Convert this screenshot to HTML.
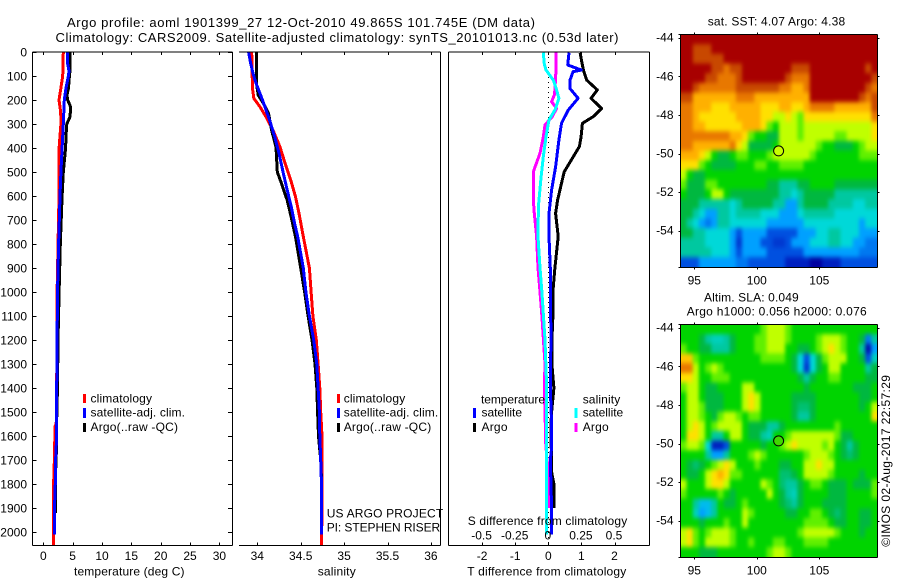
<!DOCTYPE html>
<html lang="en">
<head>
<meta charset="utf-8">
<title>Argo profile 1901399_27</title>
<style>
html,body{margin:0;padding:0;background:#fff;}
svg{display:block;}
text{font-family:"Liberation Sans",sans-serif;font-size:12px;fill:#000;}
</style>
</head>
<body>
<svg id="fig" xmlns="http://www.w3.org/2000/svg" width="900" height="580" viewBox="0 0 900 580">
<defs>
<filter id="mapSmooth" filterUnits="userSpaceOnUse" x="660" y="10" width="240" height="570" color-interpolation-filters="sRGB">
<feGaussianBlur stdDeviation="1.8 2.5"/>
</filter>
<clipPath id="sstClip"><rect x="680" y="35" width="197.5" height="232"/></clipPath>
<clipPath id="slaClip"><rect x="680" y="325" width="197.5" height="232"/></clipPath>
</defs>
<rect x="0" y="0" width="900" height="580" fill="#fff"/>
<text x="67" y="27" font-size="13" style="font-size:13px" textLength="468">Argo profile: aoml 1901399_27 12-Oct-2010 49.865S 101.745E (DM data)</text>
<text x="55.5" y="42" style="font-size:13px" textLength="563">Climatology: CARS2009. Satellite-adjusted climatology: synTS_20101013.nc (0.53d later)</text>
<g id="maps"></g>
<g id="plots"></g>

<text x="74" y="575.5" textLength="110.5">temperature (deg C)</text>
<text x="317.7" y="575.5" textLength="38">salinity</text>
<text x="467.3" y="575.5" textLength="159">T difference from climatology</text>
<text x="467.7" y="525" textLength="159.5">S difference from climatology</text>

<g>
<rect x="83" y="394" width="3" height="9" fill="#f00"/>
<rect x="83" y="408" width="3" height="10" fill="#00f"/>
<rect x="83" y="423" width="3" height="9" fill="#000"/>
<text x="90.5" y="402.5" textLength="61.5">climatology</text>
<text x="90.5" y="416.7" textLength="94.5">satellite-adj. clim.</text>
<text x="90.5" y="431" textLength="87.5">Argo(..raw -QC)</text>
</g>
<g>
<rect x="337" y="394" width="3" height="9" fill="#f00"/>
<rect x="337" y="408" width="3" height="10" fill="#00f"/>
<rect x="337" y="423" width="3" height="9" fill="#000"/>
<text x="343.7" y="402.5" textLength="61.5">climatology</text>
<text x="343.7" y="416.7" textLength="94.5">satellite-adj. clim.</text>
<text x="343.7" y="431" textLength="87.5">Argo(..raw -QC)</text>
</g>
<text x="326.7" y="517.7" textLength="116.5">US ARGO PROJECT</text>
<text x="326.7" y="531.7" textLength="113.5">PI: STEPHEN RISER</text>
<g>
<text x="481" y="403.3" textLength="64">temperature</text>
<text x="582.7" y="403.3" textLength="37.5">salinity</text>
<rect x="473" y="408" width="3" height="10" fill="#00f"/>
<rect x="473" y="423" width="3" height="9" fill="#000"/>
<rect x="574.5" y="408" width="3" height="10" fill="#0ff"/>
<rect x="574.5" y="423" width="3" height="9" fill="#f0f"/>
<text x="481.5" y="416.7" textLength="40.5">satellite</text>
<text x="481.5" y="431" textLength="26">Argo</text>
<text x="582.7" y="416.7" textLength="40.5">satellite</text>
<text x="582.7" y="431" textLength="26">Argo</text>
</g>

<text x="707.7" y="25.7" textLength="137.5">sat. SST: 4.07 Argo: 4.38</text>
<text x="704" y="301.7" textLength="94.7">Altim. SLA: 0.049</text>
<text x="686.7" y="315.7" textLength="180">Argo h1000: 0.056 h2000: 0.076</text>
<text transform="translate(890,546.7) rotate(-90)" x="0" y="0" textLength="171.7">©IMOS 02-Aug-2017 22:57:29</text>
</svg>
<script>
// ---------- profile data (depth in dbar) ----------
const tempClimDepth = [0,100,150,200,250,300,400,500,600,1000,1400,1500,1550,1560,1650,1750,1800,1900,2000,2055];
const tempClimValue = [3.4,3.3,3.0,2.67,2.96,3.0,2.7,2.7,2.67,2.35,2.28,2.25,2.2,1.98,1.94,1.83,1.75,1.72,1.7,1.7];
const tempSatDepth = [0,50,80,100,150,200,300,400,500,600,800,1000,1400,1500,1600,1700,1800,1900,2000,2010];
const tempSatValue = [4.15,4.15,4.38,4.27,3.87,3.58,3.4,3.2,3.0,2.85,2.6,2.42,2.28,2.28,2.28,2.1,2.05,1.9,1.9,1.9];
const tempArgoDepth = [0,50,80,100,150,180,200,230,270,300,350,400,500,600,800,1000,1200,1400,1500,1650,1750,1800,1900,1920];
const tempArgoValue = [4.55,4.55,4.55,4.45,4.3,4.04,4.15,4.67,4.55,4.0,3.87,3.8,3.4,3.2,2.9,2.7,2.5,2.42,2.3,2.25,2.1,2.08,2.08,2.08];

const salClimDepth = [0,89,158,193,228,276,325,394,464,533,603,672,769,900,1000,1100,1200,1300,1400,1500,1600,1700,1900,2055];
const salClimValue = [33.936,33.94,33.947,33.96,34.03,34.11,34.18,34.26,34.32,34.385,34.44,34.48,34.53,34.6,34.62,34.64,34.68,34.7,34.72,34.73,34.745,34.745,34.745,34.74];
const salSatDepth = [0,42,89,130,200,283,353,422,505,575,644,714,769,900,1000,1100,1200,1300,1400,1500,1600,1700,1800,2000,2010];
const salSatValue = [33.9,33.92,33.95,33.985,34.06,34.14,34.2,34.25,34.3,34.345,34.39,34.43,34.465,34.53,34.56,34.6,34.65,34.685,34.7,34.715,34.72,34.73,34.74,34.74,34.74];
const salArgoDepth = [0,130,179,214,257,326,396,500,549,618,688,771,900,1000,1100,1200,1300,1400,1500,1600,1700,1780];
const salArgoValue = [33.99,33.99,34.01,34.07,34.13,34.165,34.215,34.23,34.28,34.345,34.39,34.44,34.5,34.545,34.585,34.63,34.665,34.685,34.695,34.705,34.73,34.74];

const dTArgoDepth = [3,33,75,117,158,193,235,269,297,353,394,436,499,547,617,672,769,900,1000,1100,1200,1300,1400,1500,1550,1750,1800,1900];
const dTArgoValue = [0.96,1.0,1.06,1.16,1.48,1.29,1.61,1.36,1.03,0.99,0.94,0.755,0.48,0.4,0.28,0.22,0.3,0.2,0.14,0.14,0.11,0.11,0.17,0.1,0.08,0.1,0.17,0.17];
const dTSatDepth = [3,54,75,82,117,152,193,242,297,367,478,575,672,769,900,1200,1400,1550,1650,1700,1900,2010];
const dTSatValue = [0.625,0.585,1.0,0.75,0.655,0.655,0.9,0.6,0.4,0.32,0.22,0.1,0.02,0.02,0.06,0.08,0.06,0.1,0.1,0.06,0.1,0.1];
const dSArgoDepth = [3,89,158,179,207,235,269,304,353,422,499,617,672,769,900,1000,1100,1300,1400,1550,1608,1700,1760,1900];
const dSArgoValue = [0.058,0.057,0.05,0.045,0.025,0.063,0.03,-0.025,-0.038,-0.063,-0.113,-0.113,-0.106,-0.088,-0.078,-0.063,-0.048,-0.025,-0.03,-0.023,-0.023,-0.01,0.008,0.008];
const dSSatDepth = [3,50,75,117,158,193,242,283,353,436,533,644,769,900,1000,1200,1400,1550,1900,2010];
const dSSatValue = [-0.038,-0.03,-0.017,0.038,0.063,0.08,0.05,0.005,-0.017,-0.038,-0.057,-0.075,-0.078,-0.063,-0.048,-0.025,-0.012,-0.012,-0.012,-0.012];

// ---------- tick labels ----------
const depthTicks = [0,100,200,300,400,500,600,700,800,900,1000,1100,1200,1300,1400,1500,1600,1700,1800,1900,2000];
const tempTicks = [0,5,10,15,20,25,30];
const salTicks = [34,34.5,35,35.5,36];
const dTTicks = [-2,-1,0,1,2];
const dSTicks = [-0.5,-0.25,0,0.25,0.5];
const lonTicks = [95,100,105];
const latTicks = [-44,-46,-48,-50,-52,-54];
const floatLon = [101.745];
const floatLat = [-49.865];

// ---------- map grids: colour level per 0.5 deg cell, north to south ----------
const sstGrid = [
[14,14,14,14,14,14,14,14,14,14,14,14,14,14,14,14,14,14,14,14,14,14,14,14,14,14,14,14,14,14,14,14],
[14,14,13,13,13,14,14,14,14,14,14,14,14,14,14,14,14,14,14,14,14,14,14,14,14,14,14,14,14,14,14,14],
[14,14,13,13,13,13,13,14,14,14,14,14,14,14,14,14,14,14,14,14,14,14,14,14,14,14,14,14,14,14,14,14],
[14,14,14,14,14,13,13,12,13,13,14,14,14,14,14,14,14,14,13,13,13,14,14,14,14,14,14,14,14,14,13,14],
[14,14,14,14,13,13,12,12,12,13,14,14,14,14,14,14,14,13,12,12,12,14,14,14,14,14,14,14,14,14,14,13],
[14,14,13,12,12,12,12,12,12,13,13,13,13,13,13,13,12,12,11,11,12,14,14,14,14,14,14,14,14,14,13,12],
[13,13,11,11,11,11,11,11,11,12,12,12,11,11,11,11,11,11,11,11,11,14,14,14,14,14,14,14,14,13,12,13],
[12,12,11,11,11,10,10,10,11,11,11,11,11,10,10,10,11,11,10,10,11,12,12,12,12,11,11,11,11,11,11,13],
[12,12,11,10,10,10,10,10,10,11,11,11,11,10,10,9,9,10,9,8,10,10,10,10,10,10,10,10,10,10,10,12],
[12,12,11,11,10,10,10,10,10,10,11,11,11,10,8,7,9,9,9,8,9,9,9,9,9,9,9,9,9,9,9,10],
[12,12,12,12,12,12,12,12,11,11,10,8,7,7,6,6,9,9,9,8,9,9,9,9,9,8,8,9,9,9,9,10],
[12,12,11,11,11,11,11,11,12,10,9,6,6,6,6,7,9,9,9,9,9,9,8,7,7,6,6,6,7,8,9,9],
[11,11,11,10,9,7,6,6,7,8,8,7,7,7,8,9,9,9,9,9,9,8,7,7,7,7,7,7,7,8,8,8],
[10,10,10,8,7,6,6,6,6,7,7,7,8,8,7,7,8,8,8,8,7,7,7,7,7,7,7,7,7,7,7,7],
[9,7,6,6,7,7,7,7,7,7,7,7,7,7,7,7,7,7,7,7,7,7,7,7,7,7,7,7,7,7,7,7],
[8,6,6,6,8,8,7,7,7,7,7,7,7,7,6,6,5,5,5,6,6,7,7,7,7,6,6,6,6,6,6,6],
[7,6,6,6,7,9,9,7,6,6,6,6,6,6,6,6,5,5,4,5,6,6,6,6,6,5,5,5,5,5,5,5],
[6,6,6,5,5,5,5,5,4,5,6,6,6,6,6,5,5,3,3,5,6,6,6,6,5,5,5,5,4,4,5,5],
[6,6,5,4,3,3,5,5,4,5,5,5,5,4,4,4,3,3,3,4,5,5,5,5,5,4,4,4,4,4,4,4],
[6,5,4,3,2.5,3,5,5,4,4,4,4,4,4,3,3,3,3,3,3,4,4,4,4,4,4,4,4,4,3,4,4],
[6,6,5,5,4,4,4,4,3,2,3,3,3,3,2,2,2,2,2,3,3,3,4,4,5,5,4,4,4,3,3,3],
[5,5,5,5,4,4,4,4,3,1.5,3,3,3,2,2,1.5,1.5,2,3,3,3,4,4,4,5,5,4,4,3,3,2.5,2.5],
[5,5,5,5,5,4,4,4,3,2,3,3,3,3,2,2,2,2,2,2,3,3,3,3,3,3,3,3,3,2.5,2.5,2.5],
[2,2,2,3,3,3,3,3,3,2.5,2.5,2,2,2,2,2,2,1,1,1,1,0,0,1,1,1,2,2,2,2,2,2]
];
const slaGrid = [
[7,7,7,7,7,7,7,7,7,7,7,7,7,8,9,9,9,8,7,7,7,7,7,7,7,7,7,7,7,7,7,7],
[7,7,7,6,5,4.5,4.5,5,6,7,7,7,8,8,9,9,9,8,7,7,7,7,8,9,9,9,8,7,7,6,2.5,5],
[8,7,7,6,6,5,5,5,6,7,7,7,8,8,9,9,9,7,7,6,6,7,8,9,10,9,8,7,7,5,0.5,3],
[10.5,10.5,8,7,7,7,7,7,7,7,7,7,7,8,8,8,8,7,6,4,2,4,6,8,9,9,9,7,7,6,2,4.5],
[12,12,9,7,8,9,8,7,7,7,7,7,7,7,7,7,7,7,6,4,1.5,4,6,7,9,9,7,7,7,7,5,6],
[10,10,9,7,7,8,8,8,7,7,7,7,7,7,7,7,7,7,7,6,5,6,7,7,8,8,7,7,7,7,6,6],
[8,9,9,7,6,6,7,7,7,7,9,9,7,7,7,7,7,7,7,7,6,7,7,7,7,7,7,7,6,6,6,7],
[7,9,9,7,6,6,6,7,7,7,9,10,9,7,7,7,7,7,6,6,6,6,7,7,7,7,7,7,7,6,6,7],
[7,9,9,8,6,6,6,7,7,7,9,10,9,7,7,7,7,7,6,5.5,5.5,6,7,7,7,7,7,7,7,6,7,9],
[7,9,9,8,7,6,8,9,9,8,7,8,8,7,7,7,7,7,6,5,5,6,7,7,7,7,7,7,7,7,7,10],
[7,9,10,9,7,8,9,9,9,9,7,6,6,6,5,5,6,7,7,7,7,7,7,7,7,8,7,7,7,7,7,7],
[7,10,10,9,7,5,5,7,9,9,7,6,6,5,4.5,7,7,8,9,9,9,9,9,9,9,8,6,6,7,7,7,7],
[8,9,9,8,4,1,1,2,7,7,7,7,7,6,7,7,8,9,10,9,9,9,9,8,9,7,6,5,6,7,7,7],
[7,7,7,7,5,3,3,5,7,7,7,8,9,8,7,7,7,7,7,7,8,9,9,9,8,7,6,5.5,6,7,7,7],
[7,6,5.5,6,7,8,9,10,9,7,7,7,8,7,7,7,6,6,7,7,9,9,10,9,9,7,7,7,7,7,7,7],
[7,6,6,7,9,10,11,10,8,8,7,7,7,7,7,7,5.5,5.5,6,7,9,9,9,9,8,7,7,7,7,6,7,7],
[9,7,7,7,9,10,10,9,7,7,7,7,7,9,8,7,5.5,5,5,6,7,8,8,7,6,6,6,7,6,6,6,8],
[8,7,7,7,7,7,8,7,6,7,7,7,7,7,9,7,6,5,4.5,6,7,7,7,7,6,6,6,7,7,7,7,8],
[7,7,5,3.5,3.5,5,7,6,6,7,8,7,7,7,7,7,6,5.5,5,6,7,7,7,6,6,6,6,7,7,7,7,7],
[7,7,4.5,3,3.5,5,7,7,7,7,9,8,7,7,7,7,7,6,6,7,7,8,8,7,6,5.5,6,7,7,6,6,7],
[7,7,7,6,7,7,7,8,7,7,9,7,7,7,7,7,7,7,7,7,8,8,8,8,7,6,6,7,7,6,6,7],
[9,10,8,7,8,9,9,9,8,7,7,7,7,7,7,7,7,7,7,8,9,9,9,9,9,8,7,7,7,6,7,7],
[9,10,8,7,9,9,9,9,8,7,7,8,7,7,7,8,8,7,7,7,8,8,8,8,7,7,7,7,7,7,7,7],
[7,7,7,6,6,6,7,7,7,7,7,7,7,7,8,9,9,8,7,7,7,7,7,7,7,7,7,7,7,7,7,7]
];
const levelColours = ['#0000a0','#0020c0','#0050e0','#00a0ff','#00d8d8','#00c8a0','#00b840','#00d400','#60f000','#c0ff00','#ffe000','#ffb000','#e87800','#c84800','#a80000'];

// ---------- axis functions ----------
const PLOT_TOP = 52, PLOT_BOTTOM = 545.5;
const yDepth = d => 52 + d * 0.24;
const xTemp = t => 43.3 + t * 5.87;
const xSal = s => 257.3 + (s - 34) * 86.8;
const xDT = t => 548.3 + t * 33.1;
const xDS = s => 548.3 + s * 132.4;
const xLon = lon => 694.3 + (lon - 95) * 12.5;
const yLatSst = lat => 37.7 + (-44 - lat) * 19.3;
const yLatSla = lat => 327.7 + (-44 - lat) * 19.3;

const SVGNS = 'http://www.w3.org/2000/svg';
const plots = document.getElementById('plots');
const maps = document.getElementById('maps');

function seg(parent, x1, y1, x2, y2, name) {
  const el = document.createElementNS(SVGNS, 'line');
  el.setAttribute('x1', x1); el.setAttribute('y1', y1);
  el.setAttribute('x2', x2); el.setAttribute('y2', y2);
  el.setAttribute('stroke', '#000');
  el.setAttribute('stroke-width', '1');
  el.setAttribute('shape-rendering', 'crispEdges');
  
  
  parent.appendChild(el);
  return el;
}
function label(parent, x, y, str, anchor, name) {
  const el = document.createElementNS(SVGNS, 'text');
  el.setAttribute('x', x); el.setAttribute('y', y);
  el.setAttribute('text-anchor', anchor);
  
  
  el.textContent = str;
  parent.appendChild(el);
  return el;
}
function profile(parent, depths, values, xFn, colour, name) {
  const el = document.createElementNS(SVGNS, 'polyline');
  el.setAttribute('points', depths.map((d, i) => xFn(values[i]).toFixed(1) + ',' + yDepth(d).toFixed(1)).join(' '));
  el.setAttribute('fill', 'none');
  el.setAttribute('stroke', colour);
  el.setAttribute('stroke-width', '3');
  el.setAttribute('stroke-linejoin', 'round');
  el.setAttribute('shape-rendering', 'crispEdges');
  
  
  parent.appendChild(el);
  return el;
}
function colourFor(level) {
  const lo = Math.max(0, Math.min(levelColours.length - 1, Math.floor(level)));
  const hi = Math.min(levelColours.length - 1, lo + 1);
  const f = Math.max(0, Math.min(1, level - lo));
  const a = levelColours[lo], b = levelColours[hi];
  const ch = i => Math.round(parseInt(a.substr(i, 2), 16) * (1 - f) + parseInt(b.substr(i, 2), 16) * f);
  return 'rgb(' + ch(1) + ',' + ch(3) + ',' + ch(5) + ')';
}

// ---------- profile panels ----------
const g1 = document.createElementNS(SVGNS, 'g');


plots.appendChild(g1);
profile(g1, tempClimDepth, tempClimValue, xTemp, '#f00', 'temperature-climatology-line');
profile(g1, tempArgoDepth, tempArgoValue, xTemp, '#000', 'temperature-argo-line');
profile(g1, tempSatDepth, tempSatValue, xTemp, '#00f', 'temperature-satellite-line');
seg(g1, 32.5, PLOT_TOP, 232.5, PLOT_TOP, 'temperature-axis-top');
seg(g1, 32.5, PLOT_BOTTOM, 232.5, PLOT_BOTTOM, 'temperature-axis-bottom');
seg(g1, 32.5, PLOT_TOP, 32.5, PLOT_BOTTOM, 'depth-axis-line');
seg(g1, 232.5, PLOT_TOP, 232.5, PLOT_BOTTOM, 'temperature-axis-right');
depthTicks.forEach(d => {
  const y = Math.round(yDepth(d)) + 0.5;
  seg(g1, 32.5, y, 36.5, y, 'depth-tick-left');
  seg(g1, 228, y, 232.5, y, 'depth-tick-right');
  label(g1, 27, yDepth(d) + 4.5, String(d), 'end', 'depth-tick-label');
});
tempTicks.forEach(t => {
  const x = Math.round(xTemp(t)) + 0.5;
  seg(g1, x, PLOT_TOP, x, PLOT_TOP + 3, 'temperature-tick-top');
  seg(g1, x, PLOT_BOTTOM - 3, x, PLOT_BOTTOM, 'temperature-tick-bottom');
  label(g1, xTemp(t), 560, String(t), 'middle', 'temperature-tick-label');
});

const g2 = document.createElementNS(SVGNS, 'g');


plots.appendChild(g2);
profile(g2, salClimDepth, salClimValue, xSal, '#f00', 'salinity-climatology-line');
profile(g2, salArgoDepth, salArgoValue, xSal, '#000', 'salinity-argo-line');
profile(g2, salSatDepth, salSatValue, xSal, '#00f', 'salinity-satellite-line');
seg(g2, 239, PLOT_TOP, 440.5, PLOT_TOP, 'salinity-axis-top');
seg(g2, 239, PLOT_BOTTOM, 440.5, PLOT_BOTTOM, 'salinity-axis-bottom');
seg(g2, 440.5, PLOT_TOP, 440.5, PLOT_BOTTOM, 'salinity-axis-right');
salTicks.forEach(s => {
  const x = Math.round(xSal(s)) + 0.5;
  seg(g2, x, PLOT_TOP, x, PLOT_TOP + 3, 'salinity-tick-top');
  seg(g2, x, PLOT_BOTTOM - 3, x, PLOT_BOTTOM, 'salinity-tick-bottom');
  label(g2, xSal(s), 560, String(s), 'middle', 'salinity-tick-label');
});

const g3 = document.createElementNS(SVGNS, 'g');


plots.appendChild(g3);
const zeroLine = seg(g3, 548.5, PLOT_TOP, 548.5, PLOT_BOTTOM, 'zero-reference-line');
zeroLine.setAttribute('stroke-dasharray', '1 4');
profile(g3, dSArgoDepth, dSArgoValue, xDS, '#f0f', 's-difference-argo-line');
profile(g3, dTArgoDepth, dTArgoValue, xDT, '#000', 't-difference-argo-line');
profile(g3, dTSatDepth, dTSatValue, xDT, '#00f', 't-difference-satellite-line');
profile(g3, dSSatDepth, dSSatValue, xDS, '#0ff', 's-difference-satellite-line');
seg(g3, 448.5, PLOT_TOP, 649.5, PLOT_TOP, 'difference-axis-top');
seg(g3, 448.5, PLOT_BOTTOM, 649.5, PLOT_BOTTOM, 'difference-axis-bottom');
seg(g3, 448.5, PLOT_TOP, 448.5, PLOT_BOTTOM, 'difference-axis-left');
seg(g3, 649.5, PLOT_TOP, 649.5, PLOT_BOTTOM, 'difference-axis-right');
dTTicks.forEach(t => {
  const x = Math.round(xDT(t)) + 0.5;
  seg(g3, x, PLOT_TOP, x, PLOT_TOP + 3, 'difference-tick-top');
  seg(g3, x, PLOT_BOTTOM - 3, x, PLOT_BOTTOM, 'difference-tick-bottom');
  label(g3, xDT(t), 560, String(t), 'middle', 't-difference-tick-label');
});
dSTicks.forEach(s => {
  label(g3, xDS(s) - 0.5, 539.3, String(s), 'middle', 's-difference-tick-label');
});

// ---------- maps ----------
function drawMap(grid, yLat, name, markerFill, clipId) {
  const g = document.createElementNS(SVGNS, 'g');
  
  
  maps.appendChild(g);
  const left = xLon(93.89), right = xLon(109.65);
  const top = yLat(-43.83), bottom = yLat(-55.87);
  const cw = (right - left) / grid[0].length, ch = (bottom - top) / grid.length;
  const clipWrap = document.createElementNS(SVGNS, 'g');
  clipWrap.setAttribute('clip-path', 'url(#' + clipId + ')');
  
  
  g.appendChild(clipWrap);
  const cells = document.createElementNS(SVGNS, 'g');
  cells.setAttribute('filter', 'url(#mapSmooth)');
  
  
  clipWrap.appendChild(cells);
  const PAD = 10; // edge cells run past the frame so smoothing keeps the border colours
  grid.forEach((row, r) => row.forEach((v, c) => {
    const padL = c === 0 ? PAD : 0, padR = c === row.length - 1 ? PAD : 0;
    const padT = r === 0 ? PAD : 0, padB = r === grid.length - 1 ? PAD : 0;
    const cell = document.createElementNS(SVGNS, 'rect');
    cell.setAttribute('x', (left + c * cw - padL).toFixed(2));
    cell.setAttribute('y', (top + r * ch - padT).toFixed(2));
    cell.setAttribute('width', (cw + 0.5 + padL + padR).toFixed(2));
    cell.setAttribute('height', (ch + 0.5 + padT + padB).toFixed(2));
    cell.setAttribute('fill', colourFor(v));
    
    
    cells.appendChild(cell);
  }));
  const L = Math.round(left) + 0.5, R = Math.round(right) + 0.5, T = Math.round(top) + 0.5, B = Math.round(bottom) + 0.5;
  seg(g, L - 2, T, R, T, 'map-frame-top');
  seg(g, L - 2, B, R, B, 'map-frame-bottom');
  seg(g, L, T, L, B, 'map-frame-left');
  seg(g, R, T, R, B, 'map-frame-right');
  lonTicks.forEach(lon => {
    const x = Math.round(xLon(lon)) + 0.5;
    seg(g, x, T - 2, x, T, 'longitude-tick-top');
    seg(g, x, B, x, B + 2, 'longitude-tick-bottom');
    label(g, xLon(lon), bottom + 17.6, String(lon), 'middle', 'longitude-tick-label');
  });
  latTicks.forEach(lat => {
    const y = Math.round(yLat(lat)) + 0.5;
    seg(g, L - 2, y, L, y, 'latitude-tick-left');
    seg(g, R, y, R + 2, y, 'latitude-tick-right');
    label(g, 673.5, yLat(lat) + 4, String(lat), 'end', 'latitude-tick-label');
  });
  const marker = document.createElementNS(SVGNS, 'circle');
  marker.setAttribute('cx', xLon(floatLon[0]));
  marker.setAttribute('cy', yLat(floatLat[0]));
  marker.setAttribute('r', '5');
  marker.setAttribute('fill', markerFill);
  marker.setAttribute('stroke', '#000');
  marker.setAttribute('stroke-width', '1');
  
  
  g.appendChild(marker);
}
drawMap(sstGrid, yLatSst, 'sst-map', '#c8ff00', 'sstClip');
drawMap(slaGrid, yLatSla, 'sla-map', '#40d800', 'slaClip');
</script>
</body>
</html>
